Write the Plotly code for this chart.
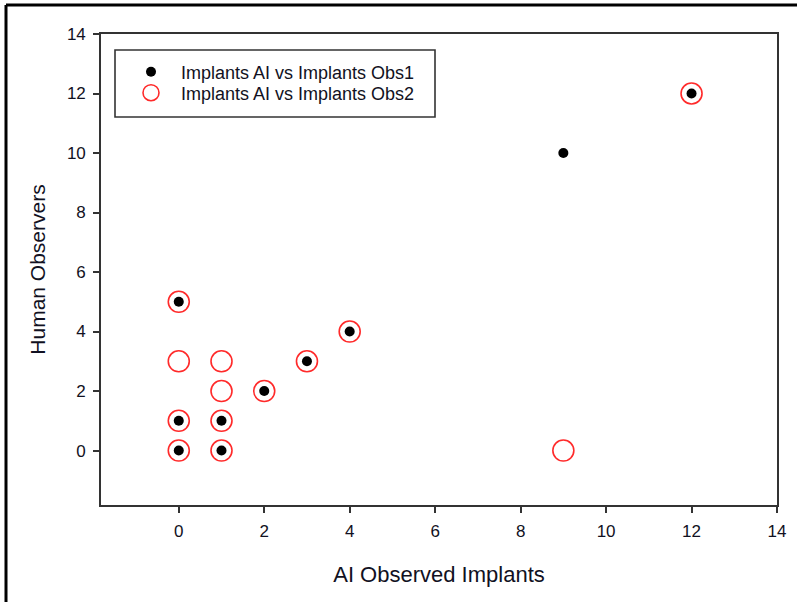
import plotly.graph_objects as go

obs1_name = "Implants AI vs Implants Obs1"
obs1_ai = [0, 1, 0, 1, 2, 3, 4, 0, 9, 12]
obs1_human = [0, 0, 1, 1, 2, 3, 4, 5, 10, 12]

obs2_name = "Implants AI vs Implants Obs2"
obs2_ai = [0, 1, 0, 1, 1, 0, 1, 2, 3, 4, 0, 9, 12]
obs2_human = [0, 0, 1, 1, 2, 3, 3, 2, 3, 4, 5, 0, 12]

x_ticks = [0, 2, 4, 6, 8, 10, 12, 14]
y_ticks = [0, 2, 4, 6, 8, 10, 12, 14]

W, H = 797, 602
ml, mr, mt, mb = 101, 20, 34, 97
pw, ph = W - ml - mr, H - mt - mb

def px(x):
    return (x - ml) / pw

def py(y):
    return (H - mb - y) / ph

font_family = "Liberation Sans, Arial, sans-serif"
text_color = "#111122"

fig = go.Figure()
fig.add_trace(go.Scatter(
    x=obs1_ai, y=obs1_human, mode="markers", name=obs1_name, legend="legend",
    marker=dict(symbol="circle", size=10, color="black", line=dict(width=0)),
))
fig.add_trace(go.Scatter(
    x=obs2_ai, y=obs2_human, mode="markers", name=obs2_name, legend="legend2",
    marker=dict(symbol="circle-open", size=21, color="#ff2a2a", line=dict(width=1.6, color="#ff2a2a")),
))

axis_common = dict(
    showgrid=False, zeroline=False, showline=True, mirror=True,
    linecolor="#333333", linewidth=1.6, ticks="outside", ticklen=6,
    tickwidth=1.6, tickcolor="#333333", ticklabelstandoff=4,
    tickfont=dict(family=font_family, size=17, color=text_color),
)

legend_common = dict(
    xanchor="left", yanchor="middle",
    bgcolor="rgba(0,0,0,0)", borderwidth=0, itemwidth=50,
    font=dict(family=font_family, size=18, color=text_color),
)

fig.update_layout(
    width=W, height=H,
    margin=dict(l=ml, r=mr, t=mt, b=mb),
    paper_bgcolor="white", plot_bgcolor="white",
    xaxis=dict(range=[-1.82, 14], tickvals=x_ticks, ticktext=[str(v) for v in x_ticks],
               title=dict(text="AI Observed Implants", font=dict(family=font_family, size=22, color=text_color), standoff=26),
               **axis_common),
    yaxis=dict(range=[-1.83, 14], tickvals=y_ticks, ticktext=[str(v) for v in y_ticks],
               title=dict(text="Human Observers", font=dict(family=font_family, size=21, color=text_color), standoff=16),
               **axis_common),
    showlegend=True,
    legend=dict(x=px(121), y=py(72), **legend_common),
    legend2=dict(x=px(121), y=py(93), **legend_common),
    shapes=[
        dict(type="rect", xref="paper", yref="paper",
             x0=px(115), x1=px(435), y0=py(117), y1=py(50),
             line=dict(color="#333333", width=1.6), fillcolor="rgba(0,0,0,0)", layer="below"),
        dict(type="line", xref="paper", yref="paper",
             x0=px(6), x1=px(797), y0=py(5), y1=py(5),
             line=dict(color="black", width=3)),
        dict(type="line", xref="paper", yref="paper",
             x0=px(6), x1=px(6), y0=py(5), y1=py(602),
             line=dict(color="black", width=3)),
    ],
)

fig.write_html("out.html", config={"displayModeBar": False},
               post_script="document.body.style.margin='0';document.body.style.overflow='hidden';")
